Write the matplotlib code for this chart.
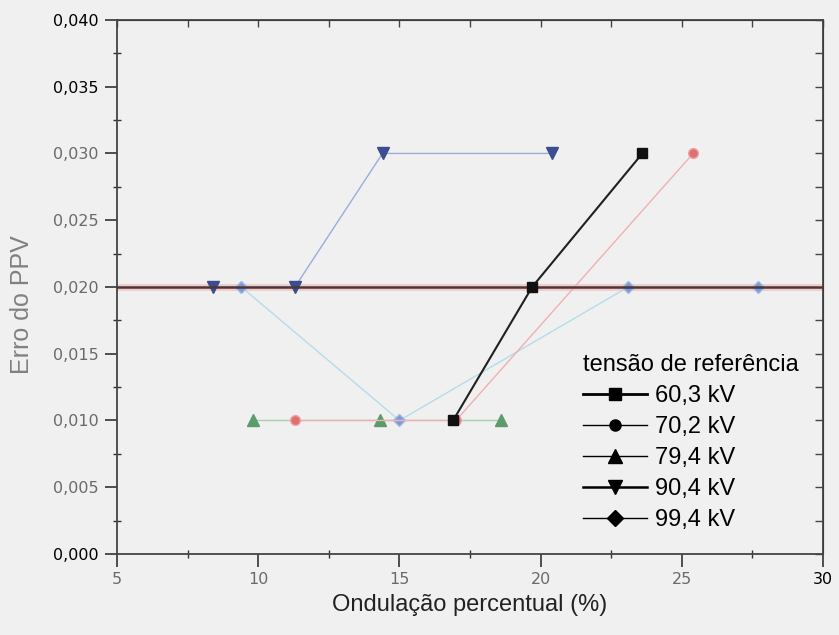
import matplotlib
matplotlib.use("Agg")
import matplotlib.pyplot as plt
from matplotlib.lines import Line2D
from matplotlib.ticker import MultipleLocator, FuncFormatter

# data
x_603 = [16.9, 19.7, 23.6]
y_603 = [0.010, 0.020, 0.030]
x_702 = [11.3, 17.0, 25.4]
y_702 = [0.010, 0.010, 0.030]
x_794 = [9.8, 14.3, 18.6]
y_794 = [0.010, 0.010, 0.010]
x_904 = [8.4, 11.3, 14.4, 20.4]
y_904 = [0.020, 0.020, 0.030, 0.030]
x_994 = [9.4, 15.0, 23.1, 27.7]
y_994 = [0.020, 0.010, 0.020, 0.020]
limite = 0.020
labels = ["60,3 kV", "70,2 kV", "79,4 kV", "90,4 kV", "99,4 kV"]

bg = "#f0f0f0"
fig = plt.figure(figsize=(8.39, 6.35), dpi=100, facecolor=bg)
ax = fig.add_axes([0.1395, 0.1276, 0.8415, 0.841])
ax.set_facecolor(bg)

# reference line at 0.02
ax.axhline(limite, color="#f4cccc", lw=5, zorder=1)
ax.axhline(limite, color="#4a3838", lw=1.8, zorder=5)

ax.plot(x_994, y_994, color="#b4dcea", lw=1.0, marker="D", ms=6,
        mfc="#7d98d8", mec="#a0b8e6", zorder=3)
ax.plot(x_904, y_904, color="#9cacdc", lw=1.0, marker="v", ms=8,
        mfc="#3c4c90", mec="#3c4c90", zorder=3)
ax.plot(x_794, y_794, color="#a8d0b0", lw=1.0, marker="^", ms=8,
        mfc="#5c9c6c", mec="#5c9c6c", zorder=3)
ax.plot(x_702, y_702, color="#f0b0b0", lw=1.0, marker="o", ms=7,
        mfc="#e07070", mec="#f0a0a0", zorder=4)
ax.plot(x_603, y_603, color="#202020", lw=1.5, marker="s", ms=6.5,
        mfc="#111111", mec="#111111", zorder=6)

ax.set_xlim(5, 30)
ax.set_ylim(0, 0.040)
ax.xaxis.set_major_locator(MultipleLocator(5))
ax.xaxis.set_minor_locator(MultipleLocator(2.5))
ax.yaxis.set_major_locator(MultipleLocator(0.005))
ax.yaxis.set_minor_locator(MultipleLocator(0.0025))
ax.yaxis.set_major_formatter(FuncFormatter(lambda v, p: f"{v:.3f}".replace(".", ",")))
ax.xaxis.set_major_formatter(FuncFormatter(lambda v, p: f"{v:.0f}"))

ax.tick_params(which="major", direction="out", length=9, width=1.2, color="#333333",
               labelsize=11.5, labelcolor="#6a6a6a", pad=4)
ax.tick_params(which="minor", direction="inout", length=6, width=1, color="#333333")
for s in ax.spines.values():
    s.set_color("#444444")
    s.set_linewidth(1.3)

# ticks on top and right point inward
top = ax.secondary_xaxis("top")
top.xaxis.set_major_locator(MultipleLocator(5))
top.xaxis.set_minor_locator(MultipleLocator(2.5))
top.tick_params(which="both", direction="in", length=5, width=1, color="#444444",
                labeltop=False)
right = ax.secondary_yaxis("right")
right.yaxis.set_major_locator(MultipleLocator(0.005))
right.yaxis.set_minor_locator(MultipleLocator(0.0025))
right.tick_params(which="both", direction="in", length=6, width=1, color="#444444",
                  labelright=False)

for t in ax.get_yticklabels():
    if t.get_text() in ("0,040", "0,035", "0,000"):
        t.set_color("black")
for t in ax.get_xticklabels():
    if t.get_text() == "30":
        t.set_color("black")

ax.set_xlabel("Ondulação percentual (%)", fontsize=17, color="#222222",
              family="Liberation Sans", labelpad=5)
ax.set_ylabel("Erro do PPV", fontsize=18, color="#808080",
              family="Liberation Sans")
ax.yaxis.set_label_coords(-0.118, 0.466)

handles = [
    Line2D([], [], color="black", lw=2, marker="s", ms=9),
    Line2D([], [], color="black", lw=1, marker="o", ms=8),
    Line2D([], [], color="black", lw=1, marker="^", ms=10),
    Line2D([], [], color="black", lw=1.8, marker="v", ms=10),
    Line2D([], [], color="black", lw=1, marker="D", ms=8),
]
font = {"family": "Liberation Sans", "size": 17}
leg = ax.legend(handles, labels, title="tensão de referência", loc="upper left",
                bbox_to_anchor=(583 / 839, 1 - 354 / 635), bbox_transform=fig.transFigure,
                frameon=False, prop=font, title_fontproperties=font,
                handlelength=2.7, handletextpad=0.35, labelspacing=0.38,
                borderpad=0, borderaxespad=0)
leg._legend_box.align = "left"

fig.savefig("out.png", dpi=100, facecolor=bg)
